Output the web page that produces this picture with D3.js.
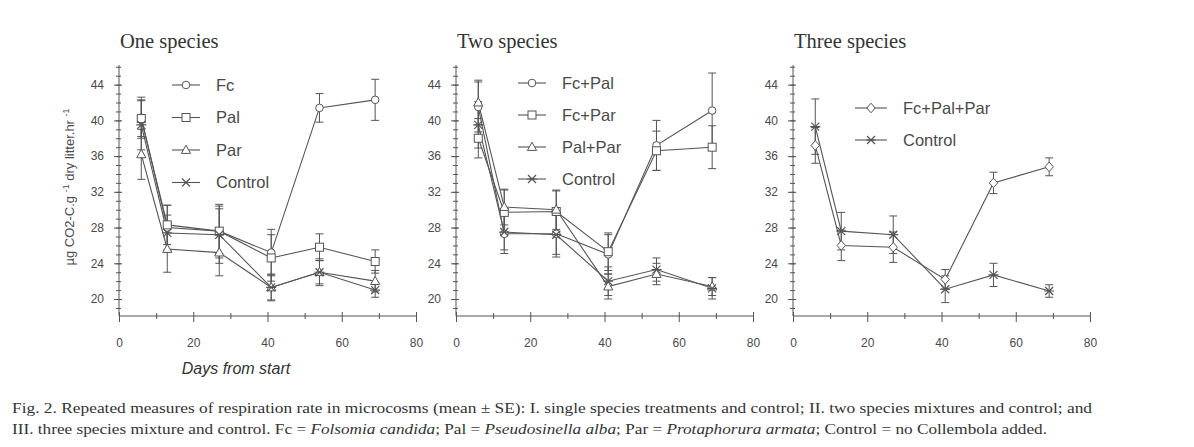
<!DOCTYPE html>
<html><head><meta charset="utf-8">
<script src="https://cdn.jsdelivr.net/npm/d3@7"></script>
<style>html,body{margin:0;padding:0;background:#fff;}svg{display:block;}</style>
</head><body>
<svg id="chart" width="1194" height="447"></svg>
<script>
// ---------- data ----------
const days = [6, 13, 27, 41, 54, 69];
const panelTitles = ["One species", "Two species", "Three species"];
const xTicks = [0, 20, 40, 60, 80];
const yTicks = [20, 24, 28, 32, 36, 40, 44];

// Panel I
const fc = [40.3, 28.0, 27.6, 25.2, 41.4, 42.3];
const fcSE = [2.3, 2.5, 3.0, 2.6, 1.6, 2.3];
const pal = [40.2, 28.3, 27.6, 24.6, 25.8, 24.2];
const palSE = [2.0, 2.2, 2.5, 2.6, 1.5, 1.3];
const par = [36.2, 25.6, 25.2, 21.3, 23.0, 22.0];
const parSE = [2.8, 2.6, 2.6, 1.5, 1.5, 1.2];
const control1 = [39.5, 27.4, 27.2, 21.3, 23.0, 21.0];
const control1SE = [2.8, 2.0, 3.2, 1.4, 1.3, 0.8];

// Panel II
const fcPal = [41.5, 27.3, 27.3, 25.0, 37.2, 41.1];
const fcPalSE = [2.8, 2.2, 2.3, 2.2, 2.8, 4.2];
const fcPar = [38.0, 29.7, 29.8, 25.3, 36.6, 37.0];
const fcParSE = [2.2, 2.5, 2.3, 2.1, 2.2, 2.4];
const palPar = [42.0, 30.3, 30.0, 21.4, 22.8, 21.4];
const palParSE = [2.5, 2.0, 2.2, 1.4, 1.2, 1.0];
const control2 = [39.5, 27.5, 27.2, 22.0, 23.3, 21.2];
const control2SE = [2.6, 2.0, 2.5, 1.6, 1.3, 1.2];

// Panel III
const fcPalPar = [37.2, 26.0, 25.8, 22.2, 33.0, 34.8];
const fcPalParSE = [2.0, 1.7, 1.7, 1.1, 1.2, 1.0];
const control3 = [39.3, 27.6, 27.2, 21.1, 22.7, 20.9];
const control3SE = [3.1, 2.1, 2.1, 1.5, 1.3, 0.7];

const panels = [
  {title: panelTitles[0], series: [
    {name: "Fc", sym: "circle", v: fc, se: fcSE},
    {name: "Pal", sym: "square", v: pal, se: palSE},
    {name: "Par", sym: "triangle", v: par, se: parSE},
    {name: "Control", sym: "star", v: control1, se: control1SE}]},
  {title: panelTitles[1], series: [
    {name: "Fc+Pal", sym: "circle", v: fcPal, se: fcPalSE},
    {name: "Fc+Par", sym: "square", v: fcPar, se: fcParSE},
    {name: "Pal+Par", sym: "triangle", v: palPar, se: palParSE},
    {name: "Control", sym: "star", v: control2, se: control2SE}]},
  {title: panelTitles[2], series: [
    {name: "Fc+Pal+Par", sym: "diamond", v: fcPalPar, se: fcPalParSE},
    {name: "Control", sym: "star", v: control3, se: control3SE}]}
];

// ---------- layout ----------
const ink = "#555";
const txt = "#4a4a4a";
const svg = d3.select("#chart");
const panelX = [119, 456, 793];
const panelW = 297;
const yTop = 65, yBase = 316;
const legendPos = [
  {x: 172, y: 85, dy: 32.5, lw: 28},
  {x: 518, y: 83, dy: 32, lw: 28},
  {x: 855, y: 108, dy: 32, lw: 32}
];

function drawSymbol(g, sym, cx, cy) {
  const s = g.append("g").attr("transform", `translate(${cx},${cy})`)
    .attr("fill", "#fff").attr("stroke", ink).attr("stroke-width", 1);
  if (sym === "circle") s.append("circle").attr("r", 3.8);
  else if (sym === "square") s.append("rect").attr("x", -4).attr("y", -4).attr("width", 8).attr("height", 8);
  else if (sym === "triangle") s.append("path").attr("d", "M0,-4.8L4.6,3.4L-4.6,3.4Z");
  else if (sym === "diamond") s.append("path").attr("d", "M0,-4.8L4.2,0L0,4.8L-4.2,0Z");
  else if (sym === "star") {
    s.append("path").attr("fill", "none").attr("stroke-width", 1.2)
      .attr("d", "M-4,-4L4,4M-4,4L4,-4M-5,0L5,0");
  }
}

panels.forEach((p, i) => {
  const x0 = panelX[i];
  const x = d3.scaleLinear().domain([0, 80]).range([x0, x0 + panelW]);
  const y = d3.scaleLinear().domain([18.1, 46.2]).range([yBase, yTop]);
  const g = svg.append("g");

  // title
  g.append("text").attr("x", x0 + 1).attr("y", 48)
    .attr("font-family", "Liberation Serif, Times New Roman, serif")
    .attr("font-size", 20.5).attr("fill", "#333").text(p.title);

  // y axis
  const yMinor = d3.range(19, 47, 1);
  const yMinorAxis = d3.axisLeft(y).tickValues(yMinor).tickSize(3).tickFormat("");
  const ya = g.append("g").attr("transform", `translate(${x0},0)`).call(yMinorAxis);
  ya.select(".domain").attr("d", `M0,${yTop}V${yBase}`);
  ya.selectAll("line").attr("x2", -3).attr("x1", 2);
  const yMajorAxis = d3.axisLeft(y).tickValues(yTicks).tickSize(5).tickPadding(10).tickFormat(d3.format("d"));
  const yb = g.append("g").attr("transform", `translate(${x0},0)`).call(yMajorAxis);
  yb.select(".domain").remove();
  yb.selectAll("line").attr("x2", -5).attr("x1", 3);

  // x axis
  const xMinorAxis = d3.axisBottom(x).tickValues([10, 30, 50, 70]).tickSize(3).tickFormat("");
  const xa = g.append("g").attr("transform", `translate(0,${yBase})`).call(xMinorAxis);
  xa.select(".domain").attr("d", `M${x0},0H${x0 + panelW}`);
  xa.selectAll("line").attr("y1", -3).attr("y2", 3);
  const xMajorAxis = d3.axisBottom(x).tickValues(xTicks).tickSize(5).tickPadding(17).tickFormat(d3.format("d"));
  const xb = g.append("g").attr("transform", `translate(0,${yBase})`).call(xMajorAxis);
  xb.select(".domain").remove();
  xb.selectAll("line").attr("y1", -4).attr("y2", 6);

  [ya, yb, xa, xb].forEach(a => {
    a.selectAll("path,line").attr("stroke", ink).attr("stroke-width", 1);
    a.selectAll("text").attr("fill", txt).attr("font-size", 12)
      .attr("font-family", "Liberation Sans, Arial, sans-serif");
  });

  // series
  const line = d3.line().x((d, k) => x(days[k])).y(d => y(d));
  p.series.forEach(s => {
    g.append("path").datum(s.v).attr("d", line)
      .attr("fill", "none").attr("stroke", ink).attr("stroke-width", 1.1);
    s.v.forEach((v, k) => {
      const cx = x(days[k]);
      const yt = y(v + s.se[k]), yb2 = y(v - s.se[k]);
      g.append("path").attr("fill", "none").attr("stroke", ink).attr("stroke-width", 1)
        .attr("d", `M${cx},${yt}V${yb2}M${cx - 4},${yt}H${cx + 4}M${cx - 4},${yb2}H${cx + 4}`);
    });
  });
  p.series.forEach(s => {
    s.v.forEach((v, k) => drawSymbol(g, s.sym, x(days[k]), y(v)));
  });

  // legend
  const L = legendPos[i];
  p.series.forEach((s, j) => {
    const ly = L.y + j * L.dy;
    g.append("line").attr("x1", L.x).attr("x2", L.x + L.lw).attr("y1", ly).attr("y2", ly)
      .attr("stroke", ink).attr("stroke-width", 1.1);
    drawSymbol(g, s.sym, L.x + L.lw / 2, ly);
    g.append("text").attr("x", L.x + L.lw + 16).attr("y", ly + 5.5)
      .attr("font-family", "Liberation Sans, Arial, sans-serif").attr("font-size", 16.5)
      .attr("fill", txt).text(s.name);
  });
});

// y axis title
const yt = svg.append("text").attr("transform", "translate(74,187) rotate(-90)")
  .attr("text-anchor", "middle").attr("font-family", "Liberation Sans, Arial, sans-serif")
  .attr("font-size", 13).attr("fill", txt);
yt.append("tspan").text("\u00B5g CO2-C.g ");
yt.append("tspan").attr("font-size", 9).attr("baseline-shift", "super").text("-1");
yt.append("tspan").text(" dry litter.hr ");
yt.append("tspan").attr("font-size", 9).attr("baseline-shift", "super").text("-1");

// x axis title
svg.append("text").attr("x", 236).attr("y", 374).attr("text-anchor", "middle")
  .attr("font-family", "Liberation Sans, Arial, sans-serif").attr("font-style", "italic")
  .attr("font-size", 16).attr("fill", "#333").text("Days from start");

// caption
const capFont = "Liberation Serif, Times New Roman, serif";
svg.append("text").attr("x", 12).attr("y", 413).attr("font-family", capFont)
  .attr("font-size", 15.5).attr("fill", "#333")
  .attr("textLength", 1080).attr("lengthAdjust", "spacingAndGlyphs")
  .text("Fig. 2. Repeated measures of respiration rate in microcosms (mean \u00B1 SE): I. single species treatments and control; II. two species mixtures and control; and");
const c2 = svg.append("text").attr("x", 12).attr("y", 434).attr("font-family", capFont)
  .attr("font-size", 15.5).attr("fill", "#333")
  .attr("textLength", 1035).attr("lengthAdjust", "spacingAndGlyphs");
c2.append("tspan").text("III. three species mixture and control. Fc = ");
c2.append("tspan").attr("font-style", "italic").text("Folsomia candida");
c2.append("tspan").text("; Pal = ");
c2.append("tspan").attr("font-style", "italic").text("Pseudosinella alba");
c2.append("tspan").text("; Par = ");
c2.append("tspan").attr("font-style", "italic").text("Protaphorura armata");
c2.append("tspan").text("; Control = no Collembola added.");
</script>
</body></html>
